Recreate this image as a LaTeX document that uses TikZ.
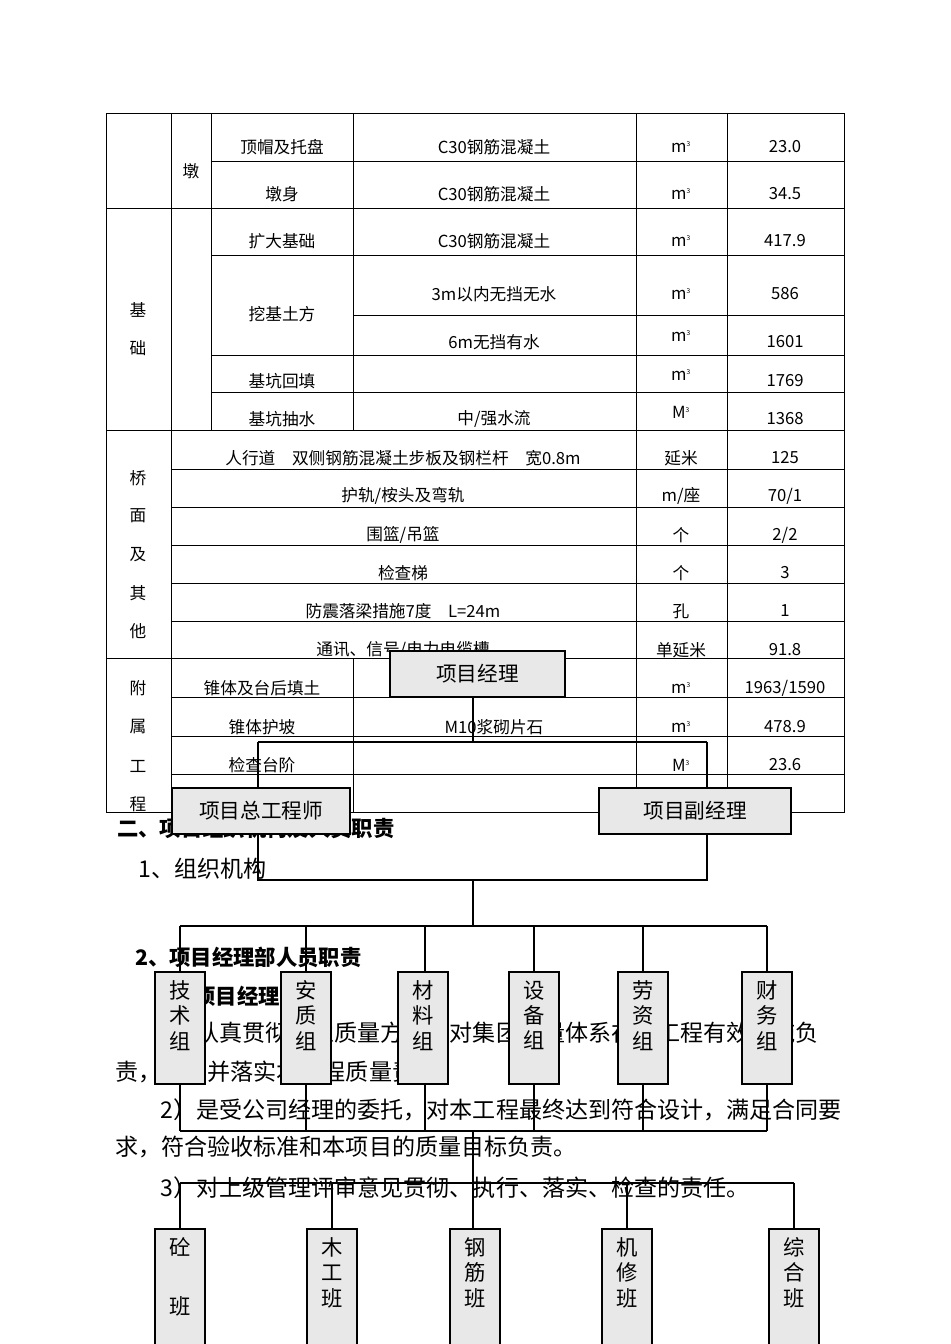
\documentclass[tikz,border=0pt]{standalone}
\usepackage{fontspec}
\setmainfont{Noto Sans CJK SC}
\begin{document}
\begin{tikzpicture}[x=0.75pt,y=-0.75pt,
  tb/.style={font=\fontsize{12.5}{14}\selectfont,inner sep=0pt},
  body/.style={font=\fontsize{17.3}{19}\selectfont,inner sep=0pt,anchor=west},
  head/.style={font=\fontsize{16}{18}\selectfont\bfseries,inner sep=0pt,anchor=west},
  hbox/.style={draw,fill=gray!18,line width=0.8pt,font=\fontsize{15.5}{17}\selectfont,inner sep=0pt},
  vbox/.style={draw,fill=gray!18,line width=0.8pt,font=\fontsize{16}{19}\selectfont,inner sep=0pt,align=center},
  ln/.style={line width=0.8pt},
  tl/.style={line width=0.6pt}]
\useasboundingbox (0,0) rectangle (950,1344);
% ---- table lines
\draw[tl] (106,113) rectangle (844,812);
\draw[tl] (171,113)--(171,812) (636,113)--(636,812) (727,113)--(727,812);
\draw[tl] (211,113)--(211,430) (353,113)--(353,430) (353,658)--(353,812);
\draw[tl] (211,161)--(844,161) (106,208)--(844,208) (211,255)--(844,255) (353,315)--(844,315)
  (211,355)--(844,355) (211,392)--(844,392) (106,430)--(844,430);
\foreach \y in {469,507,545,583,621,697,736,774} \draw[tl] (171,\y)--(844,\y);
\draw[tl] (106,658)--(844,658);
\newcommand{\mc}{m\textsuperscript{\tiny 3}}
\newcommand{\Mc}{M\textsuperscript{\tiny 3}}
% ---- table text
\node[tb] (t1) at (191,171) {墩};
\foreach \t/\y in {顶帽及托盘/147,墩身/194,扩大基础/241,挖基土方/314,基坑回填/381,基坑抽水/419}
  \node[tb] at (282,\y) {\t};
\foreach \t/\y in {C30钢筋混凝土/147,C30钢筋混凝土/194,C30钢筋混凝土/241,3m以内无挡无水/294,6m无挡有水/342,{中/强水流}/419,M10浆砌片石/727}
  \node[tb] at (494,\y) {\t};
\foreach \y in {147,194,241,294,336,375,688,727} \node[tb] at (681,\y) {\mc};
\foreach \y in {412,765} \node[tb] at (681,\y) {\Mc};
\foreach \t/\y in {23.0/147,34.5/194,417.9/241,586/294,1601/342,1769/381,1368/419,125/458,{70/1}/496,{2/2}/535,3/573,1/611,91.8/650,{1963/1590}/688,478.9/727,23.6/765}
  \node[tb] at (785,\y) {\t};
\foreach \t/\y in {延米/458,{m/座}/496,个/535,个/573,孔/611,单延米/650}
  \node[tb] at (681,\y) {\t};
\node[tb] at (403,458) {人行道\quad 双侧钢筋混凝土步板及钢栏杆\quad 宽0.8m};
\node[tb] at (403,496) {护轨/桉头及弯轨};
\node[tb] at (403,535) {围篮/吊篮};
\node[tb] at (403,573) {检查梯};
\node[tb] at (403,611) {防震落梁措施7度\quad L=24m};
\node[tb] at (403,650) {通讯、信号/电力电缆槽};
\node[tb] at (262,688) {锥体及台后填土};
\node[tb] at (262,727) {锥体护坡};
\node[tb] at (262,765) {检查台阶};
\foreach \t/\y in {基/310,础/348,桥/478,面/516,及/555,其/593,他/631,附/688,属/727,工/766,程/804}
  \node[tb] at (138,\y) {\t};
% ---- body text
\node[head] at (117,828) {二、项目组织机构及人员职责};
\node[body] at (138,869) {1、组织机构};
\node[head] at (135,957) {2、项目经理部人员职责};
\node[head] at (160,996) {1、项目经理};
\node[body] at (160,1033) {1）认真贯彻企业质量方针，对集团质量体系在本工程有效实施负};
\node[body] at (115,1072) {责，组织并落实本工程质量责任。};
\node[body] at (160,1110) {2）是受公司经理的委托，对本工程最终达到符合设计，满足合同要};
\node[body] at (115,1147) {求，符合验收标准和本项目的质量目标负责。};
\node[body] at (160,1188) {3）对上级管理评审意见贯彻、执行、落实、检查的责任。};
% ---- org chart
\coordinate (j1) at (473,742); \coordinate (j2) at (473,880);
\coordinate (j3) at (473,926); \coordinate (j4) at (473,1131);
\coordinate (j5) at (473,1183);
\draw[ln] (473,697)--(j1);
\draw[ln] (258,742)--(707,742) (258,742)--(258,788) (707,742)--(707,788);
\draw[ln] (258,834)--(258,880)--(707,880)--(707,834);
\draw[ln] (j2)--(j3) (180,926)--(767,926);
\foreach \x in {180,306,425,534,643,767} \draw[ln] (\x,926)--(\x,972) (\x,1084)--(\x,1131);
\draw[ln] (180,1131)--(767,1131) (j4)--(j5) (180,1183)--(794,1183);
\foreach \x in {180,332,473,627,794} \draw[ln] (\x,1183)--(\x,1229);
\node[hbox,minimum height=46*0.75pt,minimum width=175*0.75pt] (pm) at (477.5,674) {项目经理};
\node[hbox,minimum height=46*0.75pt,minimum width=178*0.75pt] (ce) at (261,811) {项目总工程师};
\node[hbox,minimum height=46*0.75pt,minimum width=192*0.75pt] (dm) at (695,811) {项目副经理};
\foreach \n/\x in {g1/180,g2/306,g3/423,g4/534,g5/643,g6/767}
  \node[draw,fill=gray!18,line width=0.8pt,minimum width=50*0.75pt,minimum height=112*0.75pt] (\n) at (\x,1028) {};
\foreach \x/\t in {180/技\\术\\组,306/安\\质\\组,423/材\\料\\组,534/设\\备\\组,643/劳\\资\\组,767/财\\务\\组}
  \node[vbox,draw=none,fill=none,anchor=north] at (\x,980) {\t};
\foreach \n/\x in {b1/180,b2/332,b3/475,b4/627,b5/794}
  \node[draw,fill=gray!18,line width=0.8pt,minimum width=50*0.75pt,minimum height=120*0.75pt] (\n) at (\x,1289) {};
\node[vbox,draw=none,fill=none,anchor=north] at (180,1237) {砼\\[25pt]班};
\foreach \x/\t in {332/木\\工\\班,475/钢\\筋\\班,627/机\\修\\班,794/综\\合\\班}
  \node[vbox,draw=none,fill=none,anchor=north] at (\x,1237) {\t};
\end{tikzpicture}
\end{document}
